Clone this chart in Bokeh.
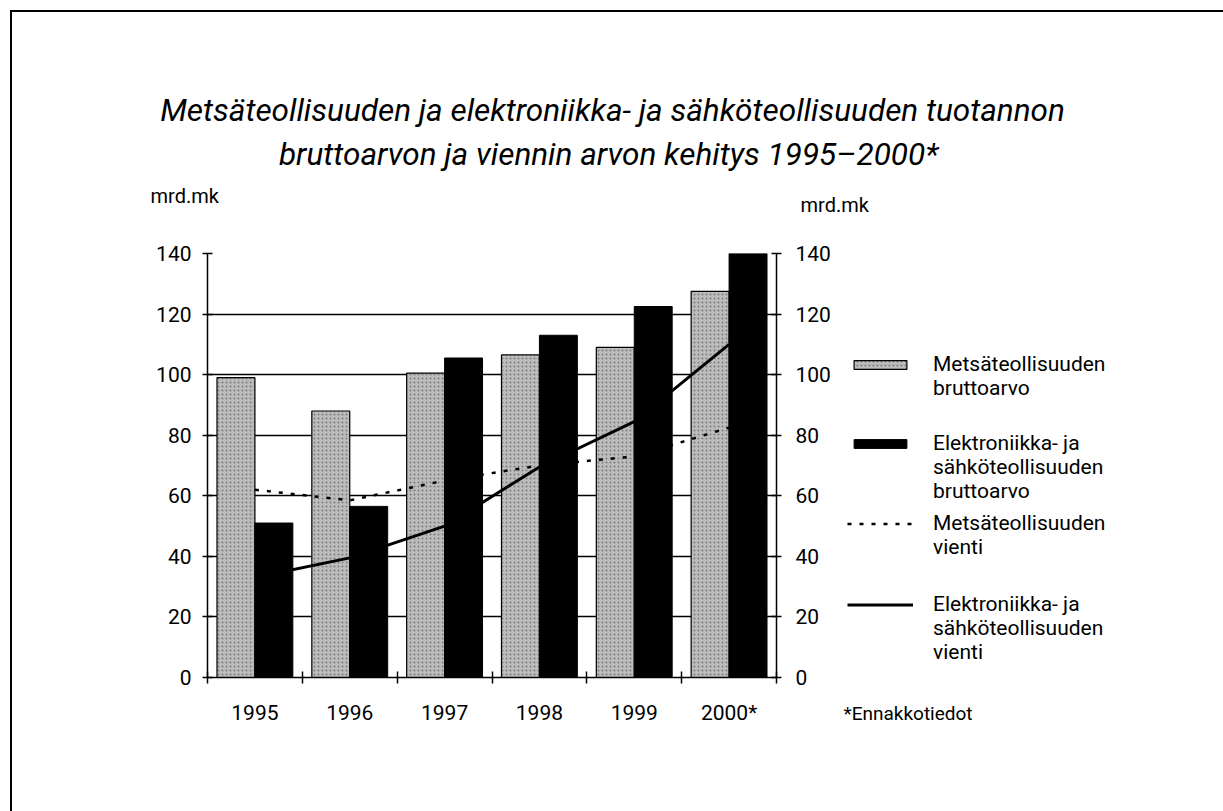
from bokeh.plotting import figure
from bokeh.layouts import column, row
from bokeh.models import (Range1d, LinearAxis, FixedTicker, Legend, LegendItem,
                          ColumnDataSource, Title)
from bokeh.core.properties import value
from bokeh.transform import dodge
from bokeh.embed import file_html
from bokeh.resources import INLINE

# ---- data (mrd. mk) ----
years = ["1995", "1996", "1997", "1998", "1999", "2000*"]
metsa_bruttoarvo = [99.0, 88.0, 100.5, 106.5, 109.0, 127.5]
elektro_bruttoarvo = [51.0, 56.5, 105.5, 113.0, 122.5, 140.0]
metsa_vienti = [62.0, 58.5, 65.0, 70.0, 73.0, 82.5]
elektro_vienti = [33.0, 39.5, 50.0, 69.5, 84.5, 110.0]
y_ticks = [0, 20, 40, 60, 80, 100, 120, 140]
grid_ticks = [20, 40, 60, 80, 100, 120]

title_lines = ["Metsäteollisuuden ja elektroniikka- ja sähköteollisuuden tuotannon",
               "bruttoarvon ja viennin arvon  kehitys 1995–2000*"]
unit_label = "mrd.mk"
footnote = "*Ennakkotiedot"
legend_labels = [["Metsäteollisuuden", "bruttoarvo"],
                 ["Elektroniikka- ja", "sähköteollisuuden", "bruttoarvo"],
                 ["Metsäteollisuuden", "vienti"],
                 ["Elektroniikka- ja", "sähköteollisuuden", "vienti"]]

FONT = "Roboto"
LIGHT = dict(fill_color="#bcbcbc", line_color="black", line_width=1.2,
             hatch_pattern=".", hatch_color="#3c3c3c", hatch_scale=4, hatch_alpha=0.5)
DARK = dict(fill_color="black", line_color="black")
DOTTED = dict(line_color="black", line_width=2.5, line_dash="4 8")
SOLID = dict(line_color="black", line_width=3)

O = 12          # content origin (page px) after the css border
W, H = 1223, 811
TOP_H = 228     # page y where the chart row starts
SPLIT = 838     # page x where the legend area starts
FR_T, FR_B, FR_L, FR_R = 253, 677, 207, 776   # chart frame in page px


def blank(width, height, x0, x1, y0, y1):
    f = figure(width=width, height=height, x_range=Range1d(x0, x1), y_range=Range1d(y0, y1),
               output_backend="svg", toolbar_location=None, x_axis_location=None,
               y_axis_location=None, min_border=0, outline_line_color=None, title=None)
    f.grid.visible = False
    return f

# ---- top: title + units (data coords = page px) ----
top = blank(W - O, TOP_H - O, O, W, TOP_H, O)
top.text(x=[612, 612], y=[110, 154], text=title_lines, text_font=value(FONT),
         text_font_size="31.5px", text_font_style="italic", text_align="center",
         text_baseline="alphabetic", text_color="black")
top.text(x=[150, 800], y=[195, 204], text=[unit_label, unit_label], text_font=value(FONT),
         text_font_size="20px", text_align="left", text_baseline="alphabetic", text_color="black")

# ---- main chart ----
centers = [i + 0.5 for i in range(len(years))]
bounds = list(range(len(years) + 1))
src = ColumnDataSource(dict(x=centers, mb=metsa_bruttoarvo, eb=elektro_bruttoarvo,
                            mv=metsa_vienti, ev=elektro_vienti))

p = figure(width=SPLIT - O, height=H - TOP_H, x_range=Range1d(0, len(years)),
           y_range=Range1d(0, 140), output_backend="svg", toolbar_location=None, title=None,
           min_border_left=FR_L - O, min_border_right=SPLIT - FR_R, min_border_top=FR_T - TOP_H,
           min_border_bottom=H - FR_B, outline_line_color=None)

p.xgrid.visible = False
p.ygrid.ticker = FixedTicker(ticks=grid_ticks)
p.ygrid.grid_line_color = "black"
p.ygrid.grid_line_width = 1.5

p.vbar(x=dodge("x", -0.2), top="mb", width=0.4, source=src, **LIGHT)
p.vbar(x=dodge("x", 0.2), top="eb", width=0.4, source=src, **DARK)
p.line("x", "mv", source=src, **DOTTED)
p.line("x", "ev", source=src, **SOLID)


def style_y(ax, standoff):
    ax.ticker = FixedTicker(ticks=y_ticks, minor_ticks=[])
    ax.axis_line_width = 1.5
    ax.major_tick_line_width = 1.5
    ax.major_tick_in = 5
    ax.major_tick_out = 5
    ax.minor_tick_line_color = None
    ax.major_label_text_font = FONT
    ax.major_label_text_font_size = "21px"
    ax.major_label_text_color = "black"
    ax.major_label_standoff = standoff


style_y(p.yaxis[0], 11)
ax_r = LinearAxis()
style_y(ax_r, 14)
p.add_layout(ax_r, "right")

xa = p.xaxis[0]
xa.ticker = FixedTicker(ticks=centers, minor_ticks=bounds)
xa.major_label_overrides = {c: y for c, y in zip(centers, years)}
xa.major_tick_line_color = None
xa.major_tick_in = 0
xa.major_tick_out = 0
xa.minor_tick_in = 6
xa.minor_tick_out = 6
xa.minor_tick_line_width = 1.5
xa.axis_line_width = 1.5
xa.major_label_text_font = FONT
xa.major_label_text_font_size = "21px"
xa.major_label_text_color = "black"
xa.major_label_standoff = 17

# ---- legend area (its frame is aligned with the chart frame; data coords = page px) ----
side = blank(W - SPLIT, H - TOP_H, SPLIT, W, FR_B, FR_T)
nan = float("nan")
dummy = ColumnDataSource(dict(x=[nan], y=[nan]))
glyphs = [side.vbar(x="x", top="y", width=1, source=dummy, **LIGHT),
          side.vbar(x="x", top="y", width=1, source=dummy, **DARK),
          side.line("x", "y", source=dummy, **DOTTED),
          side.line("x", "y", source=dummy, **SOLID)]
first_line_centre = [364, 443, 523, 604]   # page y of the first label line
PITCH = 24
for lines, g, yc in zip(legend_labels, glyphs, first_line_centre):
    n_after = len(lines) - 1
    label = "\n" * n_after + "\n".join(lines)       # glyph is centred -> lines centred on line 1
    bottom = yc + PITCH / 2 + n_after * PITCH
    side.add_layout(Legend(items=[LegendItem(label=label, renderers=[g])],
                           location=(847 - SPLIT, FR_B - bottom), border_line_color=None,
                           background_fill_alpha=0, label_text_font=FONT,
                           label_text_font_size="21px", label_text_color="black",
                           glyph_width=66, glyph_height=11, label_standoff=20,
                           padding=0, margin=0))

side.add_layout(Title(text=footnote, align="left", offset=5, standoff=44,
                      text_font=FONT, text_font_size="19px", text_font_style="normal",
                      text_color="black"), "below")

layout = column(top, row(p, side, spacing=0), spacing=0)
layout.styles = {"margin-left": "10px", "margin-top": "10px",
                 "border-top": "2px solid black", "border-left": "2px solid black"}

open("out.html", "w").write(file_html(layout, INLINE))
